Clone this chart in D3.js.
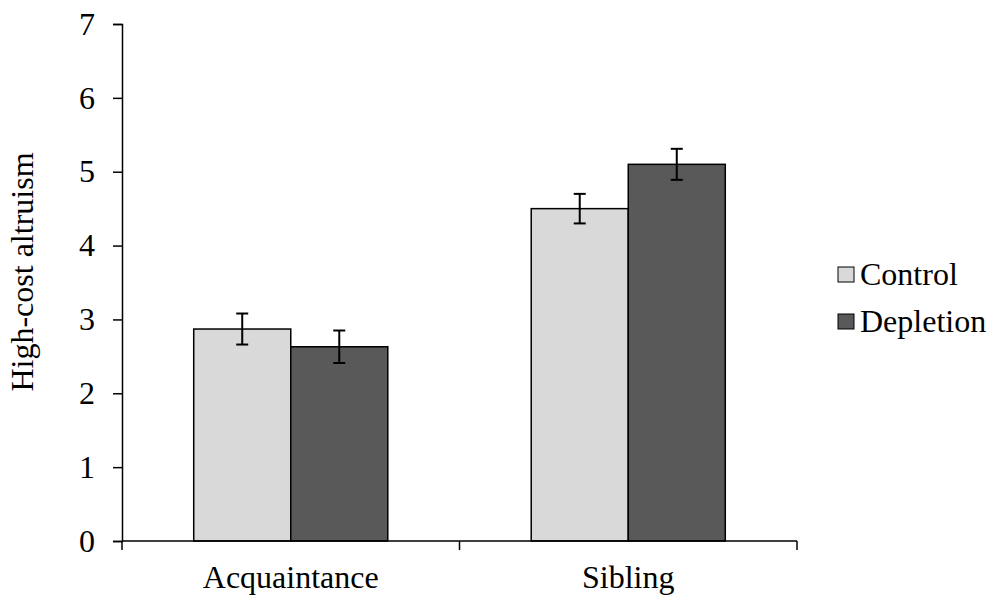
<!DOCTYPE html>
<html>
<head>
<script src="https://cdn.jsdelivr.net/npm/d3@7"></script>
<style>
  body { margin: 0; background: #fff; }
  text { font-family: "Liberation Serif", "Times New Roman", serif; fill: #000; }
</style>
</head>
<body>
<svg></svg>
<script>
var categories = ["Acquaintance", "Sibling"];
var series = ["Control", "Depletion"];
var colors = ["#d9d9d9", "#595959"];
var values = {
    Control:   [2.87, 4.50],
    Depletion: [2.63, 5.10]
};
var errors = {
    Control:   [0.21, 0.20],
    Depletion: [0.22, 0.21]
};
var yTicks = [0, 1, 2, 3, 4, 5, 6, 7];

var w = 992, h = 597;
var plotLeft = 122, plotRight = 797, plotTop = 24, plotBottom = 541;
var fontSize = "32px";

var svg = d3.select("svg").attr("width", w).attr("height", h);

var y = d3.scaleLinear().domain([0, 7]).range([plotBottom, plotTop]);

var x = d3.scaleBand()
        .domain(categories)
        .range([plotLeft, plotRight])
        .paddingInner(0.425)
        .paddingOuter(0.2125);

var xs = d3.scaleBand().domain(series).range([0, x.bandwidth()]);

// y axis
var yAxis = svg.append("g")
        .attr("transform", "translate(" + plotLeft + ",0)")
        .call(d3.axisLeft(y).tickValues(yTicks).tickSize(9).tickPadding(18).tickFormat(d3.format("d")));
yAxis.select(".domain").attr("stroke", "#000").attr("stroke-width", 1.5);
yAxis.selectAll(".tick line").attr("stroke", "#000").attr("stroke-width", 1.5);
yAxis.selectAll(".tick text").style("font-size", fontSize).attr("font-family", null);

// bars
series.forEach(function(s, i) {
    var g = svg.append("g");
    g.selectAll("rect")
        .data(categories)
        .enter().append("rect")
        .attr("x", function(d) { return x(d) + xs(s); })
        .attr("y", function(d, j) { return y(values[s][j]); })
        .attr("width", xs.bandwidth())
        .attr("height", function(d, j) { return plotBottom - y(values[s][j]); })
        .attr("fill", colors[i])
        .attr("stroke", "#000")
        .attr("stroke-width", 1.5);

    var eb = g.selectAll(".err")
        .data(categories)
        .enter().append("g");
    var cx = function(d) { return x(d) + xs(s) + xs.bandwidth() / 2; };
    eb.append("line")
        .attr("x1", cx).attr("x2", cx)
        .attr("y1", function(d, j) { return y(values[s][j] + errors[s][j]); })
        .attr("y2", function(d, j) { return y(values[s][j] - errors[s][j]); })
        .attr("stroke", "#000").attr("stroke-width", 2);
    [1, -1].forEach(function(sign) {
        eb.append("line")
            .attr("x1", function(d) { return cx(d) - 6; })
            .attr("x2", function(d) { return cx(d) + 6; })
            .attr("y1", function(d, j) { return y(values[s][j] + sign * errors[s][j]); })
            .attr("y2", function(d, j) { return y(values[s][j] + sign * errors[s][j]); })
            .attr("stroke", "#000").attr("stroke-width", 2);
    });
});

// x axis
svg.append("line")
    .attr("x1", plotLeft).attr("x2", plotRight)
    .attr("y1", plotBottom).attr("y2", plotBottom)
    .attr("stroke", "#000").attr("stroke-width", 1.5);
var bounds = [plotLeft].concat(categories.map(function(c) { return x(c) + x.bandwidth() + x.step() * x.paddingInner() / 2; }));
bounds[bounds.length - 1] = plotRight;
svg.selectAll(".xtick")
    .data(bounds)
    .enter().append("line")
    .attr("x1", function(d) { return d; }).attr("x2", function(d) { return d; })
    .attr("y1", plotBottom).attr("y2", plotBottom + 9)
    .attr("stroke", "#000").attr("stroke-width", 1.5);
svg.selectAll(".xlabel")
    .data(categories)
    .enter().append("text")
    .attr("x", function(d) { return x(d) + x.bandwidth() / 2; })
    .attr("y", 588)
    .attr("text-anchor", "middle")
    .style("font-size", fontSize)
    .text(function(d) { return d; });

// y label
svg.append("text")
    .attr("transform", "translate(33,272) rotate(-90)")
    .attr("text-anchor", "middle")
    .style("font-size", fontSize)
    .text("High-cost altruism");

// legend
var legend = svg.append("g").attr("transform", "translate(838,267)");
series.forEach(function(s, i) {
    legend.append("rect")
        .attr("x", 0).attr("y", i * 47)
        .attr("width", 16).attr("height", 15)
        .attr("fill", colors[i]).attr("stroke", "#000").attr("stroke-width", 1);
    legend.append("text")
        .attr("x", 22).attr("y", i * 47 + 18)
        .style("font-size", fontSize)
        .text(s);
});
</script>
</body>
</html>
